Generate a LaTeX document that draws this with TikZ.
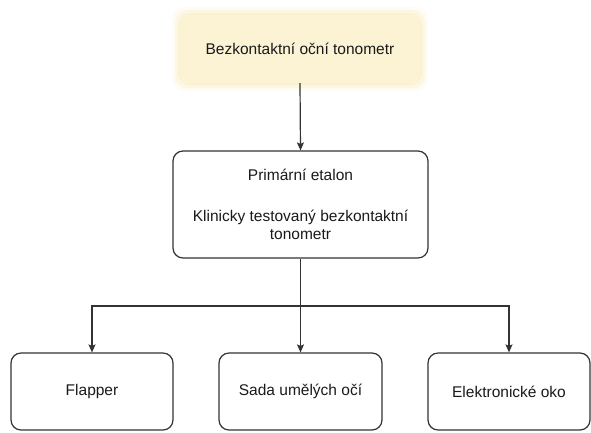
\documentclass[tikz,border=0pt]{standalone}
\usepackage{fontspec}
\setmainfont{Liberation Sans}
\usetikzlibrary{arrows.meta}
\definecolor{linegray}{HTML}{333333}
\definecolor{textgray}{HTML}{1A1A1A}
\definecolor{topfill}{HTML}{FBF3D3}
\definecolor{topedge}{HTML}{F6E8B2}
\tikzset{
  boxfont/.style={font=\fontsize{15.5}{18}\selectfont, text=textgray},
  box/.style={draw=linegray, line width=1.2pt, rounded corners=10pt, fill=white,
    boxfont, align=center, inner sep=0pt},
  conn/.style={draw=linegray, line width=1.2pt, -{Stealth[length=8pt,width=7pt,inset=1.5pt]}},
}
\begin{document}
\begin{tikzpicture}[x=1pt,y=-1pt]
\useasboundingbox (0,0) rectangle (591,432);
% glow of the top box
\foreach \d/\o in {8/0.15,5/0.25,2/0.4}{
  \fill[topedge, opacity=\o, rounded corners=12pt] (180-\d,15-\d) rectangle (420+\d,83+\d);
}
\node[fill=topfill, rounded corners=6pt, minimum width=240pt, minimum height=68pt,
  boxfont, inner sep=0pt] (top) at (300,49) {Bezkontaktní oční tonometr};
\node[box, minimum width=255pt, minimum height=107pt] (mid) at (300.5,204.5)
  {Primární etalon\\[23pt]Klinicky testovaný bezkontaktní\\tonometr};
\node[box, minimum width=162pt, minimum height=77pt] (b1) at (92,391.5) {Flapper};
\node[box, minimum width=163pt, minimum height=77pt] (b2) at (300.5,391.5) {Sada umělých očí};
\node[box, minimum width=162pt, minimum height=77pt] (b3) at (509,391.5) {Elektronické oko};
\coordinate (split) at (300,306);
\draw[conn] (top.south) -- (mid.north);
\draw[conn] (mid.south) -- (b2.north);
\draw[conn] (split) -| (b1.north);
\draw[conn] (split) -| (b3.north);
\end{tikzpicture}
\end{document}
